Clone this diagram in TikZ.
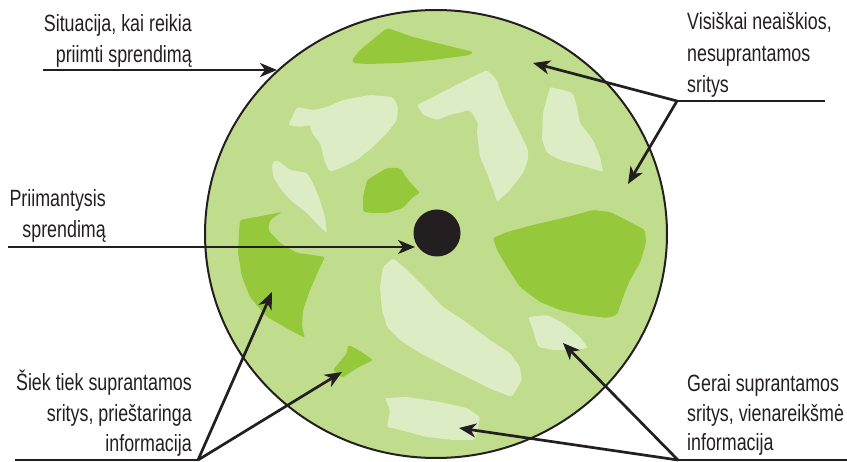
\documentclass[tikz,border=0pt]{standalone}
\usepackage{fontspec}
\setmainfont{Liberation Sans}[FakeStretch=0.76]
\usetikzlibrary{arrows.meta}
\definecolor{basegreen}{RGB}{191,221,140}
\definecolor{darkgreen}{RGB}{150,200,60}
\definecolor{palegreen}{RGB}{220,236,196}
\definecolor{inkblack}{RGB}{35,31,32}
\begin{document}
\begin{tikzpicture}[x=1pt,y=-1pt,
  lbl/.style={inner sep=0pt,font=\fontsize{23.5}{31}\selectfont,text=inkblack},
  conn/.style={line width=2.7pt,draw=inkblack},
  arr/.style={conn,-{Stealth[length=17pt,width=14pt,inset=5pt]}},
  darkblob/.style={fill=darkgreen,draw=none,rounded corners=2pt},
  paleblob/.style={fill=palegreen,draw=none,rounded corners=2pt}]
\useasboundingbox (0,0) rectangle (847,462);
% main circle
\fill[basegreen] (436,234) ellipse [x radius=231,y radius=224];
% dark blobs
\path[darkblob] (352,60)--(360,50)--(387,28)--(413,37)--(453,47)--(473,52)--(470,55)--(433,60)--(400,63)--(367,64)--(353,63)--cycle;
\path[darkblob] (367,180)--(387,168)--(400,168)--(408,180)--(420,193)--(413,197)--(403,208)--(387,213)--(373,213)--(363,212)--(363,197)--cycle;
\path[darkblob] (240,220)--(267,215)--(282,212)--(270,220)--(268,230)--(280,243)--(297,253)--(313,255)--(325,257)--(320,267)--(310,290)--(303,310)--(302,327)--(305,338)--(290,330)--(267,317)--(250,297)--(242,277)--(238,253)--(239,233)--cycle;
\path[darkblob] (493,238)--(507,232)--(533,225)--(567,217)--(593,210)--(610,212)--(630,222)--(645,230)--(646,243)--(640,263)--(630,280)--(623,297)--(617,315)--(607,318)--(583,315)--(560,310)--(540,302)--(520,287)--(507,267)--(497,250)--cycle;
\path[darkblob] (333,370)--(347,353)--(348,345)--(353,347)--(363,353)--(373,360)--(357,368)--(342,378)--cycle;
% pale blobs
\path[paleblob] (288,125)--(297,107)--(313,110)--(327,107)--(343,100)--(370,95)--(393,97)--(398,107)--(397,120)--(387,133)--(373,147)--(357,160)--(343,167)--(330,172)--(325,163)--(320,143)--(312,133)--(310,125)--(300,127)--cycle;
\path[paleblob] (417,105)--(433,97)--(460,83)--(487,70)--(497,80)--(500,90)--(507,107)--(520,133)--(528,150)--(528,160)--(523,173)--(510,190)--(497,202)--(495,195)--(487,173)--(480,157)--(477,133)--(478,123)--(470,110)--(450,115)--(437,120)--(423,115)--cycle;
\path[paleblob] (550,87)--(563,90)--(573,93)--(577,107)--(580,123)--(593,140)--(600,157)--(603,172)--(587,167)--(560,160)--(547,153)--(542,140)--(543,113)--cycle;
\path[paleblob] (272,163)--(277,160)--(290,170)--(307,173)--(313,183)--(320,200)--(325,217)--(327,233)--(320,227)--(307,213)--(290,200)--(280,188)--(273,177)--cycle;
\path[paleblob] (383,267)--(393,258)--(407,270)--(427,290)--(443,307)--(463,320)--(490,340)--(510,353)--(520,367)--(522,380)--(512,397)--(493,390)--(473,380)--(447,367)--(420,353)--(400,340)--(387,327)--(382,310)--(380,287)--cycle;
\path[paleblob] (528,317)--(547,315)--(563,323)--(580,337)--(588,348)--(573,350)--(553,350)--(538,347)--(533,330)--cycle;
\path[paleblob] (385,398)--(407,397)--(440,402)--(467,408)--(480,417)--(478,428)--(475,440)--(453,440)--(427,437)--(400,430)--(387,427)--(390,410)--cycle;
% outline
\draw[line width=2pt,inkblack] (436,234) ellipse [x radius=231,y radius=224];
% decision maker dot
\node[circle,fill=inkblack,minimum size=47pt,inner sep=0pt] (dot) at (437,233) {};

% labels
\node[lbl,anchor=base east] (l1a) at (192,32) {Situacija, kai reikia};
\node[lbl,anchor=base east] (l1b) at (192,63) {priimti sprendimą};
\node[lbl,anchor=base east] (l2a) at (106,207) {Priimantysis};
\node[lbl,anchor=base east] (l2b) at (106,238) {sprendimą};
\node[lbl,anchor=base east] (l3a) at (192,391) {Šiek tiek suprantamos};
\node[lbl,anchor=base east] (l3b) at (192,422) {sritys, prieštaringa};
\node[lbl,anchor=base east] (l3c) at (192,452) {informacija};
\node[lbl,anchor=base west] (l4a) at (687,30) {Visiškai neaiškios,};
\node[lbl,anchor=base west] (l4b) at (687,62) {nesuprantamos};
\node[lbl,anchor=base west] (l4c) at (687,93) {sritys};
\node[lbl,anchor=base west] (l5a) at (687,392) {Gerai suprantamos};
\node[lbl,anchor=base west] (l5b) at (687,422) {sritys, vienareikšmė};
\node[lbl,anchor=base west] (l5c) at (687,451) {informacija};

% connector coordinates
\coordinate (s1) at (43,70);   \coordinate (t1) at (277,70);
\coordinate (s2) at (8,247);   \coordinate (t2) at (415,247);
\coordinate (e3) at (15,460);  \coordinate (j3) at (198,460);
\coordinate (t3a) at (272,292); \coordinate (t3b) at (342,372);
\coordinate (e4) at (825,101); \coordinate (j4) at (677,101);
\coordinate (t4a) at (533,63); \coordinate (t4b) at (628,184);
\coordinate (e5) at (847,460); \coordinate (j5) at (678,460);
\coordinate (t5a) at (563,343); \coordinate (t5b) at (459,428);

\draw[arr] (s1) -- (t1);
\draw[arr] (s2) -- (t2);
\draw[conn] (e3) -- (j3);
\draw[arr] (j3) -- (t3a);
\draw[arr] (j3) -- (t3b);
\draw[conn] (e4) -- (j4);
\draw[arr] (j4) -- (t4a);
\draw[arr] (j4) -- (t4b);
\draw[conn] (e5) -- (j5);
\draw[arr] (j5) -- (t5a);
\draw[arr] (j5) -- (t5b);
\end{tikzpicture}
\end{document}
